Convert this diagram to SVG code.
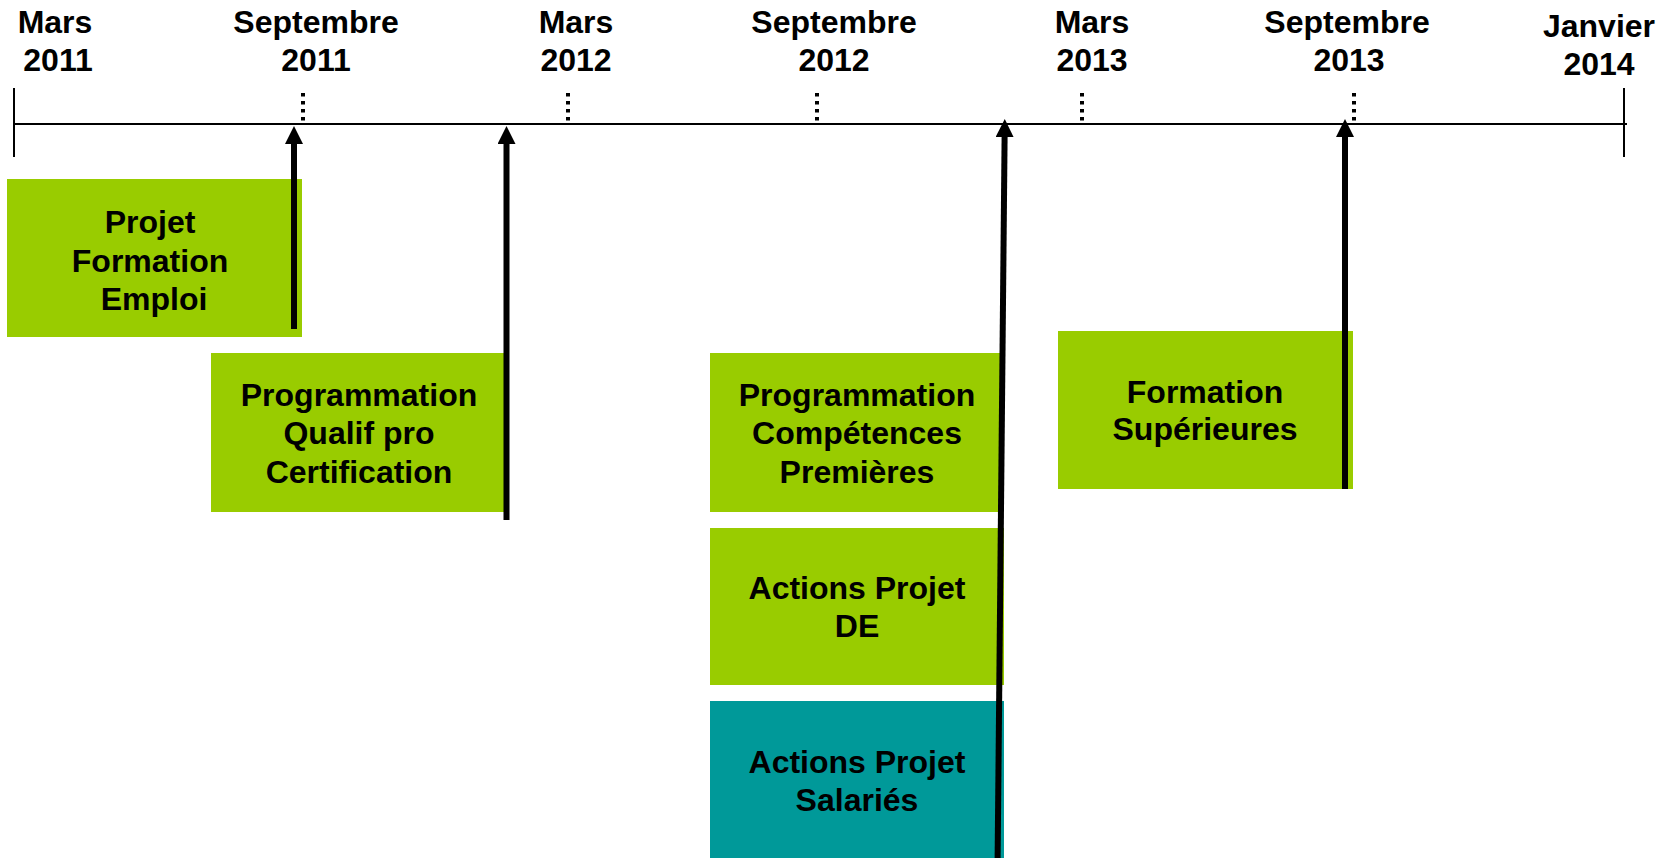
<svg xmlns="http://www.w3.org/2000/svg" width="1661" height="858" viewBox="0 0 1661 858">
<style>
text{font-family:"Liberation Sans",Arial,sans-serif;font-weight:bold;font-size:32px;fill:#000;text-anchor:middle}
.g{fill:#99CC00}
.t{fill:#009999}
.axis{stroke:#000;stroke-width:2;fill:none}
.dot{stroke:#000;stroke-width:4;stroke-dasharray:3.5 4.5;fill:none}
.arr{stroke:#000;stroke-width:6;fill:none;marker-end:url(#ah)}
</style>
<defs>
<marker id="ah" markerUnits="userSpaceOnUse" markerWidth="18" markerHeight="18" refX="0" refY="9" orient="auto" viewBox="0 0 18 18">
<path d="M0,0 L18,9 L0,18 Z" fill="#000"/>
</marker>
</defs>
<rect width="1661" height="858" fill="#fff"/>
<g id="timeline">
<line class="axis" x1="14" y1="124" x2="1627" y2="124"/>
<line class="axis" x1="14" y1="88" x2="14" y2="157"/>
<line class="axis" x1="1624" y1="88" x2="1624" y2="157"/>
<line class="dot" x1="303" y1="93" x2="303" y2="122"/>
<line class="dot" x1="568" y1="93" x2="568" y2="122"/>
<line class="dot" x1="817" y1="93" x2="817" y2="122"/>
<line class="dot" x1="1082" y1="93" x2="1082" y2="122"/>
<line class="dot" x1="1354" y1="93" x2="1354" y2="122"/>
</g>
<g id="labels">
<text x="55" y="33">Mars</text><text x="58" y="71">2011</text>
<text x="316" y="33">Septembre</text><text x="316" y="71">2011</text>
<text x="576" y="33">Mars</text><text x="576" y="71">2012</text>
<text x="834" y="33">Septembre</text><text x="834" y="71">2012</text>
<text x="1092" y="33">Mars</text><text x="1092" y="71">2013</text>
<text x="1347" y="33">Septembre</text><text x="1349" y="71">2013</text>
<text x="1599" y="37">Janvier</text><text x="1599" y="75">2014</text>
</g>
<g id="node-projet-formation-emploi">
<rect class="g" x="7" y="179" width="295" height="158"/>
<text x="150" y="233">Projet</text><text x="150" y="272">Formation</text><text x="154" y="310">Emploi</text>
</g>
<g id="node-qualif-pro">
<rect class="g" x="211" y="353" width="295" height="159"/>
<text x="359" y="406">Programmation</text><text x="359" y="444">Qualif pro</text><text x="359" y="483">Certification</text>
</g>
<g id="node-competences-premieres">
<rect class="g" x="710" y="353" width="291" height="159"/>
<text x="857" y="406">Programmation</text><text x="857" y="444">Compétences</text><text x="857" y="483">Premières</text>
</g>
<g id="node-actions-de">
<rect class="g" x="710" y="528" width="294" height="157"/>
<text x="857" y="599">Actions Projet</text><text x="857" y="637">DE</text>
</g>
<g id="node-actions-salaries">
<rect class="t" x="710" y="701" width="294" height="157"/>
<text x="857" y="773">Actions Projet</text><text x="857" y="811">Salariés</text>
</g>
<g id="node-formation-superieures">
<rect class="g" x="1058" y="331" width="295" height="158"/>
<text x="1205" y="403">Formation</text><text x="1205" y="440">Supérieures</text>
</g>
<g id="connectors">
<line class="arr" x1="294" y1="329" x2="294" y2="144"/>
<line class="arr" x1="506.5" y1="520" x2="506.5" y2="144"/>
<line class="arr" x1="997.5" y1="870" x2="1004.6" y2="137"/>
<line class="arr" x1="1345" y1="489" x2="1345" y2="137"/>
</g>
</svg>
